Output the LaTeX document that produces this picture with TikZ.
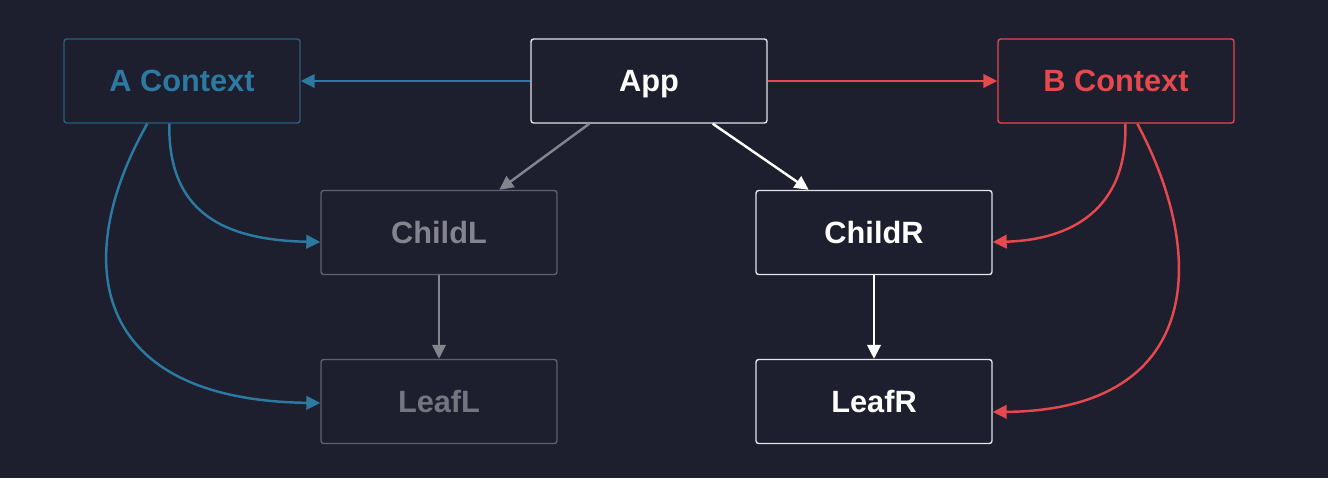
\documentclass[tikz,border=0pt]{standalone}
\usepackage{xcolor}
\usepackage{fontspec}
\setmainfont{Liberation Sans}
\usetikzlibrary{arrows.meta}
\definecolor{bg}{HTML}{1D1E2E}
\definecolor{ablue}{HTML}{2C7AA1}
\definecolor{ablueline}{HTML}{27617F}
\definecolor{bred}{HTML}{E5484D}
\definecolor{dimgray}{HTML}{84848E}
\definecolor{dimline}{HTML}{5F6070}
\definecolor{lightline}{HTML}{E4E4EA}

\begin{document}
\begin{tikzpicture}[x=0.02cm, y=-0.02cm,
    every node/.style={rectangle, draw, rounded corners=1.5pt, line width=0.8pt,
        minimum width=4.72cm, minimum height=1.68cm, text height=12.5pt, text depth=0pt,
        font=\bfseries\fontsize{17.5}{20}\selectfont},
    link/.style={line width=1.4pt, -{Triangle[length=2.8mm, width=2.7mm]}}]
     \fill[bg] (0,0) rectangle (1328,478);
     \useasboundingbox (0,0) rectangle (1328,478);

     \node[draw=ablueline, text=ablue] (A) at (182, 81) {A Context};
     \node[draw=lightline, text=white] (App) at (649, 81) {App};
     \node[draw=bred, text=bred] (B) at (1116, 81) {B Context};
     \node[draw=dimline, text=dimgray] (CL) at (439, 232.5) {ChildL};
     \node[draw=lightline, text=white] (CR) at (874, 232.5) {ChildR};
     \node[draw=dimline, text=dimgray!85!bg] (LL) at (439, 401.5) {LeafL};
     \node[draw=lightline, text=white] (LR) at (874, 401.5) {LeafR};

     \draw[link, ablue] (App) -- (A);
     \draw[link, bred] (App) -- (B);
     \draw[link, dimgray] ([xshift=1.18cm]App.south west) -- ([xshift=3.58cm]CL.north west);
     \draw[link, white] ([xshift=-1.1cm]App.south east) -- ([xshift=-3.68cm]CR.north east);
     \draw[link, dimgray] (CL) -- (LL);
     \draw[link, white] (CR) -- (LR);

     \draw[link, ablue] ([xshift=2.12cm]A.south west) .. controls (168,210) and (220,240) .. ([yshift=-0.19cm]CL.west);
     \draw[link, ablue] ([xshift=1.68cm]A.south west) .. controls (70,260) and (90,400) .. ([yshift=-0.03cm]LL.west);
     \draw[link, bred] ([xshift=2.56cm]B.south west) .. controls (1128,210) and (1070,240) .. ([yshift=-0.19cm]CR.east);
     \draw[link, bred] ([xshift=2.8cm]B.south west) .. controls (1210,260) and (1200,410) .. ([yshift=-0.21cm]LR.east);
    \end{tikzpicture}
\end{document}
